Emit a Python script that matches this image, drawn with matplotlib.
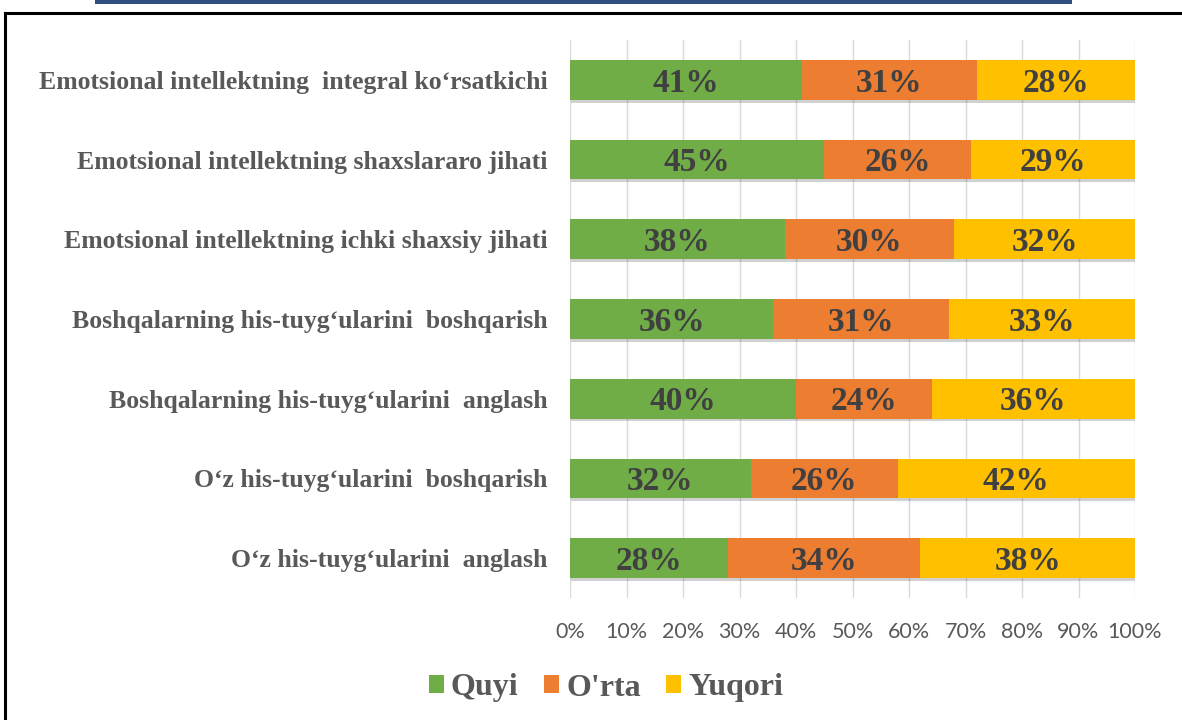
import matplotlib
matplotlib.use("Agg")
import matplotlib.pyplot as plt
import matplotlib.patheffects as pe
from matplotlib.patches import Rectangle, Patch
import numpy as np

categories = [
    "Emotsional intellektning  integral ko\u2018rsatkichi",
    "Emotsional intellektning shaxslararo jihati",
    "Emotsional intellektning ichki shaxsiy jihati",
    "Boshqalarning his-tuyg\u2018ularini  boshqarish",
    "Boshqalarning his-tuyg\u2018ularini  anglash",
    "O\u2018z his-tuyg\u2018ularini  boshqarish",
    "O\u2018z his-tuyg\u2018ularini  anglash",
]
series_names = ["Quyi", "O'rta", "Yuqori"]
quyi = [41, 45, 38, 36, 40, 32, 28]
orta = [31, 26, 30, 31, 24, 26, 34]
yuqori = [28, 29, 32, 33, 36, 42, 38]
x_ticks = [0, 10, 20, 30, 40, 50, 60, 70, 80, 90, 100]

colors = ["#70AD47", "#ED7D31", "#FFC000"]
label_color = "#404040"
cat_color = "#595959"

W, H = 1182, 720
fig = plt.figure(figsize=(W / 100, H / 100), dpi=100)
fig.patch.set_facecolor("white")

# frame and top banner
fig.patches.append(Rectangle((5 / W, -0.05), 1.2, 1 - 13 / H + 0.05, transform=fig.transFigure,
                             fill=False, edgecolor="black", linewidth=2.2, zorder=0))
fig.patches.append(Rectangle((95 / W, 1 - 4 / H), (1072 - 95) / W, 4 / H, transform=fig.transFigure,
                             facecolor="#2F4F7F", edgecolor="none", zorder=0))

ax = fig.add_axes([570 / W, 1 - 598 / H, (1135 - 570) / W, (598 - 40) / H])
y = np.arange(len(categories))
data = [quyi, orta, yuqori]
left = np.zeros(len(categories))
shadow = [pe.SimplePatchShadow(offset=(1, -2), shadow_rgbFace="#000000", alpha=0.18), pe.Normal()]
for name, vals, c in zip(series_names, data, colors):
    vals = np.array(vals, dtype=float)
    bars = ax.barh(y, vals, left=left, height=0.5, color=c, label=name, zorder=3)
    for b in bars:
        b.set_path_effects(shadow)
    for yi, l, v in zip(y, left, vals):
        ax.text(l + v / 2, yi + 0.04, f"{int(v)}%", ha="center", va="center",
                fontsize=24, fontweight="bold", family="Liberation Serif",
                color=label_color, zorder=5)
    left += vals

ax.set_xlim(0, 100)
ax.set_ylim(len(categories) - 0.5, -0.5)
ax.set_xticks(x_ticks)
ax.set_xticklabels([f"{t}%" for t in x_ticks], fontsize=15.5, family="Lato", color="#595959")
ax.set_yticks(y)
ax.set_yticklabels(categories, fontsize=18.5, fontweight="bold", family="Liberation Serif", color=cat_color)
ax.tick_params(axis="y", length=0, pad=16)
ax.tick_params(axis="x", length=0, pad=17)
ax.grid(axis="x", color="#D9D9D9", linewidth=1, zorder=0)
for s in ax.spines.values():
    s.set_visible(False)

handles = [Patch(facecolor=c, edgecolor="none", label=n) for n, c in zip(series_names, colors)]
leg = fig.legend(handles=handles, loc="center", bbox_to_anchor=(606 / W, 1 - 688 / H), ncol=3, frameon=False,
                 prop={"family": "Liberation Serif", "weight": "bold", "size": 23},
                 handlelength=0.47, handleheight=0.47, handletextpad=0.22, columnspacing=0.8)
for t in leg.get_texts():
    t.set_color(cat_color)

fig.savefig("out.png", dpi=100, facecolor="white")
